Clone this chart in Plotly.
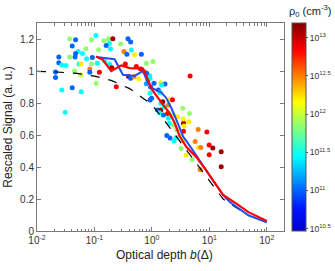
import plotly.graph_objects as go

# ---------------- data ----------------
B, LB, C, G, YG, Y, O, R, DR = 11.0, 11.2, 11.45, 11.85, 12.0, 12.2, 12.5, 12.85, 13.1

scatter_b = [0.037, 0.047, 0.041, 0.089, 0.071, 0.052, 0.062, 0.047, 0.037, 0.046,
             0.024, 0.024, 0.027, 0.032, 0.054, 0.058, 0.073, 0.092, 0.089, 0.045,
             0.058, 0.083, 0.083, 0.021, 0.021, 0.027, 0.041, 0.059, 0.031, 0.106,
             0.118, 0.146, 0.176, 0.209, 0.181, 0.160, 0.190, 0.285, 0.383, 0.427,
             0.326, 0.367, 0.501, 0.439, 0.656, 0.802, 1.045, 0.112, 0.150, 0.183,
             0.201, 0.122, 0.107, 0.240, 0.393, 0.427, 0.487, 0.588, 0.345, 0.536,
             0.637, 0.748, 0.916, 0.855, 0.811, 0.927, 1.09, 1.43, 1.69, 1.48,
             1.30, 0.927, 0.99, 0.927, 1.38, 1.43, 1.55, 1.25, 1.43, 1.35,
             1.59, 1.94, 1.65, 1.94, 2.07, 1.87, 2.38, 2.79, 2.02, 2.38,
             2.71, 3.45, 4.52, 3.55, 3.64, 4.40, 3.55, 3.22, 3.55, 1.82,
             2.07, 2.43, 2.64, 3.22, 4.63, 6.39, 5.66, 6.49, 7.11, 5.01,
             6.92, 9.06, 9.94, 11.5, 9.94, 16.1, 16.1, 0.80, 0.95, 2.28,
             3.5, 3.93]
scatter_y = [1.202, 1.195, 1.156, 1.195, 1.139, 1.122, 1.109, 1.109, 1.088, 1.088,
             1.087, 1.051, 1.038, 1.034, 1.043, 1.043, 1.076, 1.084, 1.043, 1.0,
             0.975, 1.013, 0.992, 0.994, 0.959, 0.881, 0.896, 0.871, 0.742, 1.222,
             1.133, 1.189, 1.201, 1.201, 1.174, 1.159, 1.139, 1.168, 1.201, 1.181,
             1.122, 1.105, 1.101, 1.132, 1.105, 1.049, 1.059, 1.049, 1.063, 1.043,
             1.021, 0.992, 0.923, 0.902, 0.965, 0.955, 0.965, 0.950, 1.043, 1.028,
             1.013, 0.996, 0.971, 0.944, 0.986, 0.955, 0.924, 0.927, 0.919, 0.913,
             0.882, 0.861, 0.829, 0.819, 0.865, 0.798, 0.808, 0.756, 0.756, 0.739,
             0.725, 0.704, 0.777, 0.787, 0.819, 0.735, 0.725, 0.714, 0.673, 0.662,
             0.631, 0.767, 0.735, 0.673, 0.656, 0.683, 0.624, 0.593, 0.568, 0.597,
             0.581, 0.562, 0.585, 0.516, 0.969, 0.635, 0.560, 0.522, 0.522, 0.447,
             0.384, 0.618, 0.537, 0.518, 0.476, 0.495, 0.401, 0.92, 0.90, 0.82,
             0.70, 0.474]
scatter_logrho = [G, B, B, G, G, C, C, B, G, B,
                  B, B, C, C, C, Y, C, B, G, G,
                  YG, O, B, B, B, C, B, C, C, C,
                  G, G, G, DR, C, B, C, G, B, B,
                  O, B, Y, C, B, G, G, C, C, C,
                  DR, R, G, R, DR, B, O, Y, R, R,
                  R, O, C, B, B, C, B, Y, B, C,
                  B, C, B, B, C, C, DR, B, DR, C,
                  B, C, C, O, Y, R, G, Y, C, G,
                  G, G, G, DR, Y, Y, R, G, YG, B,
                  B, C, C, G, R, O, O, Y, O, G,
                  O, R, R, DR, R, DR, DR, LB, B, R,
                  Y, Y]

red_b = [0.107, 0.14, 0.196, 0.293, 0.41, 0.70, 0.82, 1.0, 1.56, 2.05,
         2.5, 3.06, 4.0, 6.0, 8.4, 12.6, 17.4, 30, 48, 100]
red_y = [1.09, 1.07, 1.0, 1.035, 1.018, 1.015, 0.96, 0.885, 0.79, 0.735,
         0.675, 0.59, 0.525, 0.46, 0.39, 0.30, 0.225, 0.17, 0.118, 0.062]

blue_b = [0.107, 0.224, 0.313, 0.50, 0.70, 0.855, 1.05, 1.47, 1.79, 2.19,
          2.68, 3.5, 4.9, 6.8, 10, 17.4, 23, 48, 100]
blue_y = [1.087, 1.074, 0.976, 0.969, 1.0, 0.925, 0.89, 0.865, 0.83, 0.767,
          0.693, 0.59, 0.516, 0.443, 0.35, 0.225, 0.18, 0.098, 0.055]

model_b = [0.01, 0.02, 0.05, 0.1, 0.2, 0.41, 0.7, 1.0, 1.5, 2.05,
           3.0, 4.6, 6.0, 10, 17.4, 23, 50, 100]
model_y = [0.998, 0.995, 0.985, 0.968, 0.94, 0.89, 0.83, 0.79, 0.71, 0.645,
           0.56, 0.47, 0.42, 0.31, 0.20, 0.17, 0.095, 0.056]

x_tickvals = [0.01, 0.1, 1, 10, 100]
x_ticktext = ["10<sup>-2</sup>", "10<sup>-1</sup>", "10<sup>0</sup>", "10<sup>1</sup>", "10<sup>2</sup>"]
x_minor = [k * 10 ** e for e in (-2, -1, 0, 1) for k in range(2, 10)]
y_tickvals = [0, 0.2, 0.4, 0.6, 0.8, 1.0, 1.2]
y_ticktext = ["0", "0.2", "0.4", "0.6", "0.8", "1", "1.2"]
cb_tickvals = [10.5, 11, 11.5, 12, 12.5, 13]
cb_ticktext = ["10<sup>10.5</sup>", "10<sup>11</sup>", "10<sup>11.5</sup>",
               "10<sup>12</sup>", "10<sup>12.5</sup>", "10<sup>13</sup>"]

jet = [[0.0, "rgb(0,0,200)"], [0.11, "rgb(0,20,255)"], [0.36, "rgb(0,255,255)"],
       [0.62, "rgb(255,255,0)"], [0.87, "rgb(255,0,0)"], [1.0, "rgb(128,0,0)"]]

FONT = "Liberation Sans, Arial, sans-serif"
AX = "#7a7a7a"

fig = go.Figure()
fig.add_trace(go.Scatter(
    x=scatter_b, y=scatter_y, mode="markers",
    marker=dict(size=5, color=scatter_logrho, colorscale=jet, cmin=10.47, cmax=13.19,
                line=dict(width=0),
                colorbar=dict(x=1.032, xanchor="left", xpad=0, ypad=0,
                              y=0.5, yanchor="middle", len=1.0,
                              thickness=14, outlinewidth=1, outlinecolor="#555",
                              tickvals=cb_tickvals, ticktext=cb_ticktext,
                              ticks="outside", ticklen=2, tickcolor="#555",
                              tickfont=dict(size=8.5, color="#333", family=FONT))),
    showlegend=False))
fig.add_trace(go.Scatter(x=model_b, y=model_y, mode="lines",
                         line=dict(color="black", width=1.2, dash="dash"), showlegend=False))
fig.add_trace(go.Scatter(x=blue_b, y=blue_y, mode="lines",
                         line=dict(color="rgb(30,80,245)", width=2), showlegend=False))
fig.add_trace(go.Scatter(x=red_b, y=red_y, mode="lines",
                         line=dict(color="rgb(255,0,0)", width=2.2), showlegend=False))

fig.add_annotation(text="ρ<sub>0</sub> (cm<sup>-3</sup>)", xref="paper", yref="paper",
                   x=1.105, y=1.058, xanchor="center", yanchor="middle", showarrow=False,
                   font=dict(size=11, color="#222", family=FONT))
fig.add_annotation(text="Optical depth <i>b</i>(Δ)", xref="paper", yref="paper",
                   x=0.515, y=-0.115, xanchor="center", yanchor="middle", showarrow=False,
                   font=dict(size=12, color="#222", family=FONT))

fig.update_layout(
    width=335, height=271,
    margin=dict(l=37, r=51, t=23, b=40, autoexpand=False),
    paper_bgcolor="white", plot_bgcolor="white",
    font=dict(family=FONT, size=10, color="#333"),
    xaxis=dict(type="log", range=[-2, 2.3], tickvals=x_tickvals, ticktext=x_ticktext,
               ticks="inside", ticklen=4, tickcolor=AX, showline=True, linecolor=AX,
               linewidth=1, mirror="ticks", showgrid=False, zeroline=False,
               tickfont=dict(size=10, color="#333"),
               minor=dict(tickvals=x_minor, ticks="inside", ticklen=2.5, tickcolor=AX, showgrid=False)),
    yaxis=dict(range=[0, 1.3], tickvals=y_tickvals, ticktext=y_ticktext,
               ticks="inside", ticklen=4, tickcolor=AX, showline=True, linecolor=AX,
               linewidth=1, mirror="ticks", showgrid=False, zeroline=False,
               tickfont=dict(size=10, color="#333"),
               title=dict(text="Rescaled Signal (a. u.)", font=dict(size=12, color="#222"), standoff=4)),
)

fig.write_html("out.html", config={"displayModeBar": False},
               post_script="document.body.style.margin='0';document.body.style.overflow='hidden';")
